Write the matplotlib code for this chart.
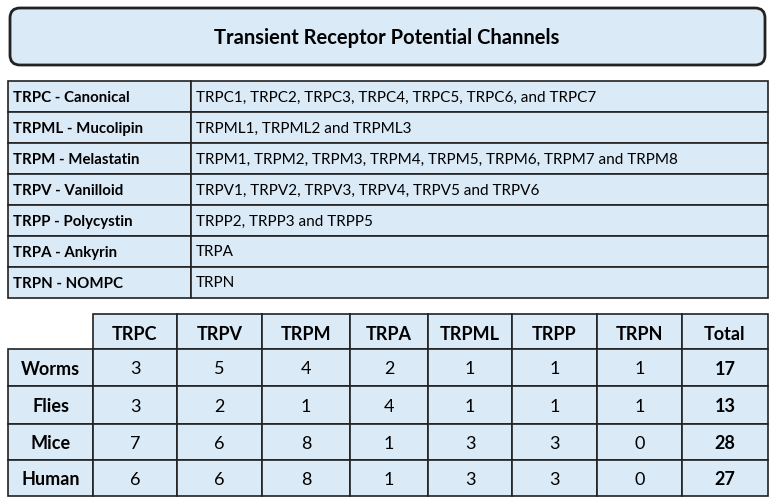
import matplotlib.pyplot as plt
from matplotlib.patches import Rectangle, FancyBboxPatch

plt.rcParams['font.family'] = ['Lato', 'DejaVu Sans']

title = "Transient Receptor Potential Channels"

families = ["TRPC - Canonical", "TRPML - Mucolipin", "TRPM - Melastatin",
            "TRPV - Vanilloid", "TRPP - Polycystin", "TRPA - Ankyrin", "TRPN - NOMPC"]
members = ["TRPC1, TRPC2, TRPC3, TRPC4, TRPC5, TRPC6, and TRPC7",
           "TRPML1, TRPML2 and TRPML3",
           "TRPM1, TRPM2, TRPM3, TRPM4, TRPM5, TRPM6, TRPM7 and TRPM8",
           "TRPV1, TRPV2, TRPV3, TRPV4, TRPV5 and TRPV6",
           "TRPP2, TRPP3 and TRPP5",
           "TRPA",
           "TRPN"]

count_cols = ["TRPC", "TRPV", "TRPM", "TRPA", "TRPML", "TRPP", "TRPN", "Total"]
species = ["Worms", "Flies", "Mice", "Human"]
counts = [[3, 5, 4, 2, 1, 1, 1, 17],
          [3, 2, 1, 4, 1, 1, 1, 13],
          [7, 6, 8, 1, 3, 3, 0, 28],
          [6, 6, 8, 1, 3, 3, 0, 27]]

fill = "#dbeaf7"
edge = "#222222"

fig = plt.figure(figsize=(7.75, 5.02), dpi=100)
ax = fig.add_axes([0, 0, 1, 1])
ax.set_xlim(0, 775)
ax.set_ylim(502, 0)
ax.axis('off')

def cell(x0, y0, x1, y1, lw=1.2):
    ax.add_patch(Rectangle((x0, y0), x1 - x0, y1 - y0, facecolor=fill, edgecolor=edge, lw=lw))

# title box
ax.add_patch(FancyBboxPatch((10, 9), 755, 57, boxstyle="round,pad=0,rounding_size=10",
                            facecolor=fill, edgecolor=edge, lw=2))
ax.text(387, 38, title, ha='center', va='center', fontsize=14.5, fontweight='bold')

# family table
top, rh, split = 82, 31, 191
for i, (f, m) in enumerate(zip(families, members)):
    y0 = top + i * rh
    cell(8, y0, split, y0 + rh)
    cell(split, y0, 768, y0 + rh)
    ax.text(13, y0 + rh / 2 + 1, f, ha='left', va='center', fontsize=10.8, fontweight='bold')
    ax.text(split + 5, y0 + rh / 2, m, ha='left', va='center', fontsize=11)

# counts table
xs = [8, 93, 177, 262, 350, 428, 512, 597, 682, 768]
ys = [315, 350, 387, 425, 461, 497]
for j, c in enumerate(count_cols):
    cell(xs[j + 1], ys[0], xs[j + 2], ys[1])
    ax.text((xs[j + 1] + xs[j + 2]) / 2, (ys[0] + ys[1]) / 2 + 2, c, ha='center', va='center',
            fontsize=13, fontweight='bold')
for i, s in enumerate(species):
    cell(xs[0], ys[i + 1], xs[1], ys[i + 2])
    ym = (ys[i + 1] + ys[i + 2]) / 2 + 1
    ax.text((xs[0] + xs[1]) / 2, ym, s, ha='center', va='center', fontsize=13, fontweight='bold')
    for j, v in enumerate(counts[i]):
        cell(xs[j + 1], ys[i + 1], xs[j + 2], ys[i + 2])
        ax.text((xs[j + 1] + xs[j + 2]) / 2, ym, str(v), ha='center', va='center', fontsize=13,
                fontweight='bold' if j == len(count_cols) - 1 else 'normal')

fig.savefig("out.png", dpi=100)
